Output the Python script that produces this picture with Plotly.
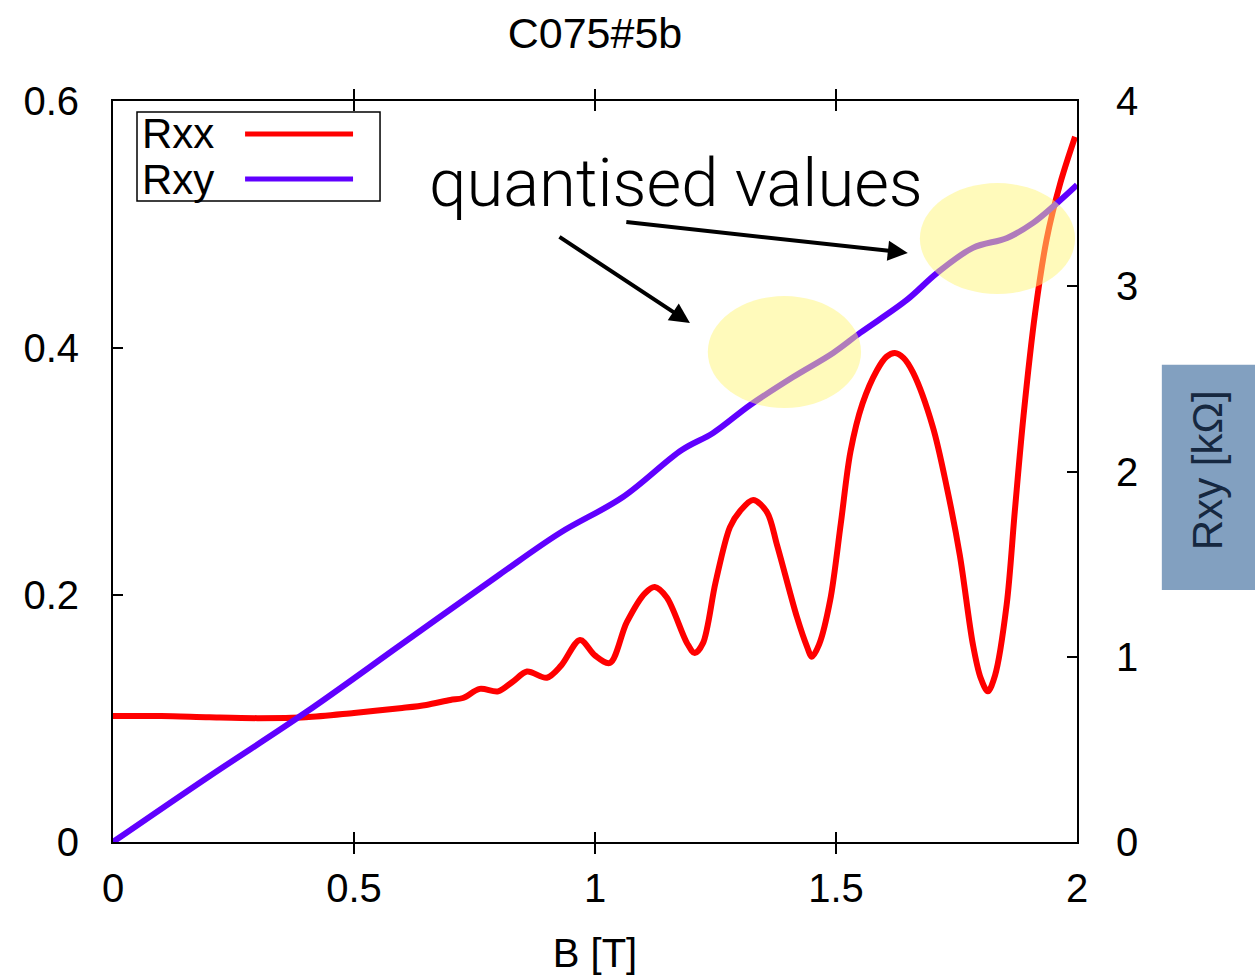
import plotly.graph_objects as go

# ---- data ----
b_rxx = [0, 0.1, 0.2, 0.3, 0.4, 0.5, 0.6, 0.65, 0.7, 0.726, 0.761, 0.799, 0.83, 0.859,
         0.900, 0.930, 0.969, 1.0, 1.031, 1.066, 1.104, 1.124, 1.149, 1.191, 1.207,
         1.224, 1.250, 1.280, 1.301, 1.328, 1.357, 1.378, 1.419, 1.440, 1.450, 1.465,
         1.488, 1.510, 1.530, 1.555, 1.585, 1.605, 1.622, 1.640, 1.660, 1.701, 1.730,
         1.757, 1.784, 1.800, 1.815, 1.830, 1.854, 1.871, 1.889, 1.913, 1.937, 1.965, 1.996]
rxx = [0.102, 0.102, 0.101, 0.1003, 0.101, 0.1045, 0.1085, 0.111, 0.115, 0.1166, 0.124,
       0.122, 0.130, 0.138, 0.133, 0.143, 0.1636, 0.151, 0.145, 0.178, 0.2016, 0.2065,
       0.198, 0.161, 0.153, 0.161, 0.210, 0.255, 0.268, 0.277, 0.267, 0.240, 0.182,
       0.158, 0.150, 0.160, 0.196, 0.258, 0.316, 0.355, 0.382, 0.393, 0.396, 0.392,
       0.380, 0.336, 0.287, 0.232, 0.160, 0.133, 0.122, 0.135, 0.192, 0.268, 0.345,
       0.428, 0.488, 0.533, 0.571]

b_rxy = [0, 0.2, 0.4, 0.6, 0.8, 0.927, 1.058, 1.18, 1.245, 1.322, 1.411, 1.494, 1.55,
         1.647, 1.71, 1.784, 1.855, 1.909, 1.959, 2.0]
rxy = [0, 0.355, 0.70, 1.07, 1.44, 1.668, 1.862, 2.116, 2.208, 2.359, 2.510, 2.640,
       2.748, 2.926, 3.072, 3.207, 3.261, 3.342, 3.45, 3.547]

series_names = ["Rxx", "Rxy"]
series_colors = ["#ff0000", "#6000ff"]
x_ticks = [0, 0.5, 1, 1.5, 2]
x_ticklabels = ["0", "0.5", "1", "1.5", "2"]
y_ticks = [0, 0.2, 0.4, 0.6]
y_ticklabels = ["0", "0.2", "0.4", "0.6"]
y2_ticks = [0, 1, 2, 3, 4]
title_text = "C075#5b"
x_title = "B [T]"
y2_title = "Rxy [kΩ]"
note_text = "quantised values"

FONT = "Liberation Sans, Arial, sans-serif"

fig = go.Figure()
fig.add_trace(go.Scatter(x=b_rxx, y=rxx, mode="lines", name=series_names[0],
                         line=dict(color=series_colors[0], width=6, shape="spline", smoothing=0.9),
                         showlegend=False))
fig.add_trace(go.Scatter(x=b_rxy, y=rxy, mode="lines", name=series_names[1], yaxis="y2",
                         line=dict(color=series_colors[1], width=6, shape="spline", smoothing=1.0),
                         showlegend=False))

axis_common = dict(showline=True, linecolor="black", linewidth=2, ticks="inside",
                   ticklen=10, tickwidth=2, tickcolor="black", showgrid=False,
                   zeroline=False, tickfont=dict(family=FONT, size=40, color="black"))

fig.update_layout(
    width=1255, height=980,
    margin=dict(l=113, r=178, t=101, b=138, autoexpand=False),
    plot_bgcolor="white", paper_bgcolor="white",
    title=dict(text=title_text, x=0.5, xref="paper", y=1 - 33 / 980, yref="container",
               yanchor="middle", font=dict(family=FONT, size=43, color="black")),
    xaxis=dict(range=[0, 2], tickvals=x_ticks, ticktext=x_ticklabels, mirror="allticks",
               ticklabelstandoff=10,
               title=dict(text=x_title, standoff=30, font=dict(family=FONT, size=40, color="black")),
               **axis_common),
    yaxis=dict(range=[0, 0.6], tickvals=y_ticks, ticktext=y_ticklabels, mirror=True,
               ticklabelstandoff=24, **axis_common),
    yaxis2=dict(range=[0, 4], tickvals=y2_ticks, overlaying="y", side="right",
                ticklabelstandoff=29, **axis_common),
)

# ---- highlight ellipses (above the lines, semi-transparent yellow) ----
fig.add_shape(type="circle", xref="x", yref="y2", x0=1.234, x1=1.552, y0=2.343, y1=2.947,
              fillcolor="rgba(255,246,120,0.5)", line=dict(width=0), layer="above")
fig.add_shape(type="circle", xref="x", yref="y2", x0=1.674, x1=1.996, y0=2.958, y1=3.557,
              fillcolor="rgba(255,246,120,0.5)", line=dict(width=0), layer="above")

# ---- annotation text and arrows ----
fig.add_annotation(text=note_text, xref="paper", yref="paper", x=0.5845, y=0.889,
                   showarrow=False, xanchor="center", yanchor="middle",
                   font=dict(family="Roboto, Lato, sans-serif", size=67, color="black", weight=300))
fig.add_annotation(x=1.197, y=2.802, xref="x", yref="y2", ax=-132, ay=-87, text="",
                   showarrow=True, arrowhead=2, arrowsize=1, arrowwidth=4, arrowcolor="black", standoff=0)
fig.add_annotation(x=1.649, y=3.180, xref="x", yref="y2", ax=-283, ay=-31, text="",
                   showarrow=True, arrowhead=2, arrowsize=1, arrowwidth=4, arrowcolor="black", standoff=0)

# ---- custom legend (text left, sample line right) ----
fig.add_shape(type="rect", xref="paper", yref="paper", x0=0.0249, x1=0.277, y0=0.865, y1=0.985,
              line=dict(color="black", width=1.5), fillcolor="white", layer="below")
leg_y = [0.9555, 0.8947]
for name, col, yy in zip(series_names, series_colors, leg_y):
    fig.add_annotation(text=name, xref="paper", yref="paper", x=0.028, y=yy, showarrow=False,
                       xanchor="left", yanchor="middle",
                       font=dict(family=FONT, size=42, color="black"))
    fig.add_shape(type="line", xref="paper", yref="paper", x0=0.137, x1=0.249, y0=yy, y1=yy,
                  line=dict(color=col, width=5))

# ---- right axis label box ----
fig.add_shape(type="rect", xref="paper", yref="paper", x0=1.088, x1=1.19, y0=0.340, y1=0.644,
              fillcolor="rgb(130,160,192)", line=dict(width=0), layer="below")
fig.add_annotation(text=y2_title, xref="paper", yref="paper", x=1.135, y=0.502, showarrow=False,
                   textangle=-90, xanchor="center", yanchor="middle",
                   font=dict(family=FONT, size=42, color="rgb(22,40,64)"))

fig.write_html("out.html")
